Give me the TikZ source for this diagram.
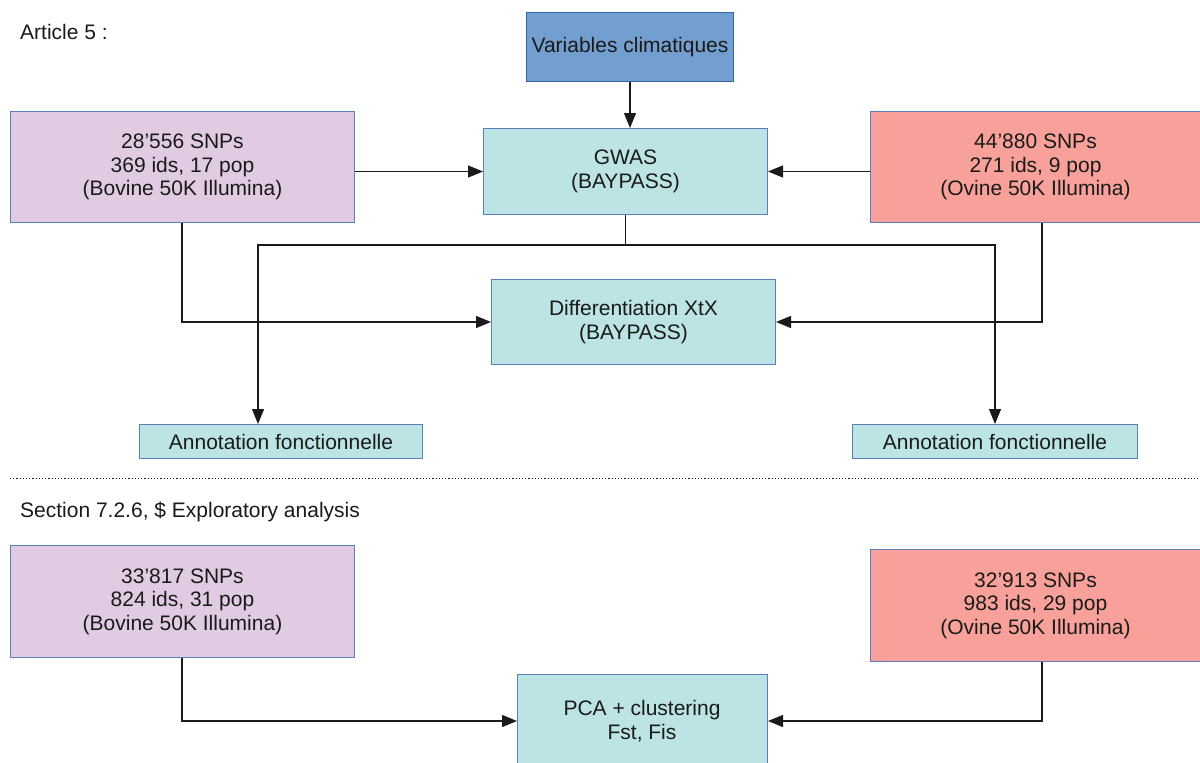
\documentclass[tikz,border=0pt]{standalone}
\usepackage{fontspec}
\setmainfont{Liberation Sans}
\usetikzlibrary{arrows.meta}
\definecolor{varfill}{HTML}{729FCF}
\definecolor{varline}{HTML}{3465A4}
\definecolor{cyanfill}{HTML}{BCE4E4}
\definecolor{bovfill}{HTML}{E0CBE3}
\definecolor{ovifill}{HTML}{F8A19A}
\definecolor{boxline}{HTML}{5B80B8}
\definecolor{txt}{HTML}{1A1A1A}
\definecolor{conn}{HTML}{1A1A1A}
\begin{document}
\begin{tikzpicture}[x=1pt,y=1pt,
  box/.style={draw=boxline, line width=1pt, anchor=north west, align=center, inner sep=0pt,
    text=txt, font=\fontsize{21}{23.5}\selectfont},
  lbl/.style={anchor=west, inner sep=0pt, text=txt, font=\fontsize{21}{23.5}\selectfont},
  arr/.style={draw=conn, line width=1.2pt, -{Triangle[length=15pt,width=12pt]}},
  ln/.style={draw=conn, line width=1.2pt}]
\clip (0,0) rectangle (1200,-763);
\fill[white] (0,0) rectangle (1200,-763);

\node[lbl] (t1) at (20,-32) {Article 5 :};
\node[lbl] (t2) at (20,-512) {Section 7.2.6, \$ Exploratory analysis};

\node[box, fill=varfill, draw=varline, minimum width=207, minimum height=69] (var) at (526,-12) {Variables climatiques};
\node[box, fill=cyanfill, minimum width=284, minimum height=86] (gwas) at (483,-128) {GWAS\\(BAYPASS)};
\node[box, fill=bovfill, minimum width=344, minimum height=111] (bov1) at (10,-111) {28’556 SNPs\\369 ids, 17 pop\\(Bovine 50K Illumina)};
\node[box, fill=ovifill, minimum width=344, minimum height=111] (ovi1) at (870,-111) {\hspace*{-14pt}44’880 SNPs\\\hspace*{-14pt}271 ids, 9 pop\\\hspace*{-14pt}(Ovine 50K Illumina)};
\node[box, fill=cyanfill, minimum width=284, minimum height=85] (diff) at (491,-279) {Differentiation XtX\\(BAYPASS)};
\node[box, fill=cyanfill, minimum width=283, minimum height=34] (annL) at (139,-424) {Annotation fonctionnelle};
\node[box, fill=cyanfill, minimum width=285, minimum height=34] (annR) at (852,-424) {Annotation fonctionnelle};

\draw[ln, dotted, line width=1pt] (10,-478) -- (1200,-478);

\node[box, fill=bovfill, minimum width=344, minimum height=112] (bov2) at (10,-545) {33’817 SNPs\\824 ids, 31 pop\\(Bovine 50K Illumina)};
\node[box, fill=ovifill, minimum width=344, minimum height=112] (ovi2) at (870,-549) {\hspace*{-14pt}32’913 SNPs\\\hspace*{-14pt}983 ids, 29 pop\\\hspace*{-14pt}(Ovine 50K Illumina)};
\node[box, fill=cyanfill, minimum width=250, minimum height=110] (pca) at (517,-674) {};
\node[align=center, inner sep=0pt, text=txt, font=\fontsize{21}{23.5}\selectfont] (pcat) at (642,-721) {PCA + clustering\\Fst, Fis};

% connectors
\draw[arr] (var.south) -- (gwas.north -| var.south);
\draw[arr] (bov1.east |- gwas.west) -- (gwas.west);
\draw[arr] (ovi1.west |- gwas.east) -- (gwas.east);
\coordinate (split) at ([yshift=-30pt]gwas.south);
\draw[arr] (gwas.south) -- (split) -| ([xshift=119pt]annL.north west);
\draw[arr] (split) -| (annR.north);
\draw[arr] ([xshift=172pt]bov1.south west) |- (diff.west);
\draw[arr] ([xshift=172pt]ovi1.south west) |- (diff.east);
\draw[arr] ([xshift=172pt]bov2.south west) |- (pca.west |- pcat);
\draw[arr] ([xshift=172pt]ovi2.south west) |- (pca.east |- pcat);
\end{tikzpicture}
\end{document}
